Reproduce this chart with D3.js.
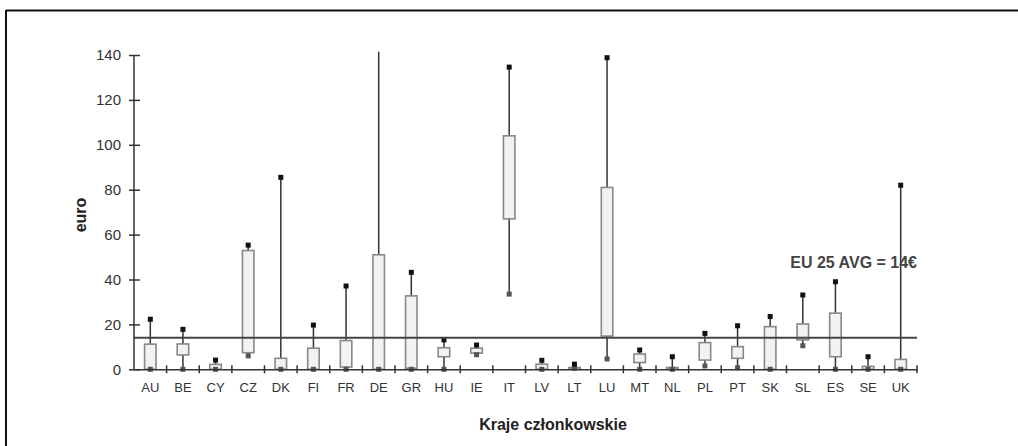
<!DOCTYPE html>
<html>
<head>
<meta charset="utf-8">
<script src="https://cdn.jsdelivr.net/npm/d3@7"></script>
<style>
  body { margin: 0; background: #fff; }
  svg { display: block; font-family: "Liberation Sans", Arial, sans-serif; }
</style>
</head>
<body>
<svg></svg>
<script>
var width = 1018, height = 446;

// data (euro)
var countries = ["AU","BE","CY","CZ","DK","FI","FR","DE","GR","HU","IE","IT",
                 "LV","LT","LU","MT","NL","PL","PT","SK","SL","ES","SE","UK"];
var mins = [0, 0, 0, 6, 0, 0, 0, 0, 0, 0, 6.5, 33.5, 0, 0.5, 4.6, 0, 0, 1.5, 0.7, 0, 10.5, 0, 0, 0];
var q1   = [0, 6.4, 0, 7.4, 0, 0, 1, 0, 0.5, 5.6, 7.2, 67, 0, 0, 14.8, 3, 0, 4.1, 4.9, 0, 13.1, 5.6, 0, 0];
var q3   = [11.2, 11.3, 2.2, 52.9, 4.9, 9.4, 12.8, 51, 32.7, 9.6, 9.4, 104, 2.3, 0.8, 81, 6.8, 0.8, 11.9, 10.1, 19, 20.2, 25, 1.3, 4.4];
var maxs = [22.3, 17.8, 4.1, 55.3, 85.5, 19.7, 37.1, 150, 43.2, 13.1, 10.8, 134.6, 4, 2.3, 138.8, 8.6, 5.6, 16, 19.4, 23.5, 33.1, 39, 5.6, 82];
var yTicks = [0, 20, 40, 60, 80, 100, 120, 140];
var avg = 14;
var avgLabel = "EU 25 AVG = 14€";

var svg = d3.select("svg")
    .attr("width", width)
    .attr("height", height);

// frame (top and left edges)
svg.append("line").attr("x1", 6).attr("x2", width).attr("y1", 10.5).attr("y2", 10.5)
    .attr("stroke", "#111").attr("stroke-width", 2);
svg.append("line").attr("x1", 6).attr("x2", 6).attr("y1", 10).attr("y2", height)
    .attr("stroke", "#111").attr("stroke-width", 2);

var x = d3.scaleBand().domain(countries).range([134, 917]);
var y = d3.scaleLinear().domain([0, 140]).range([369.3, 55]);

svg.append("clipPath").attr("id", "plot")
  .append("rect").attr("x", 134).attr("y", y(141.5)).attr("width", 800).attr("height", 330);

var boxW = 11.5;
var rows = countries.map(function(c, i) {
  return {c: c, min: mins[i], q1: q1[i], q3: q3[i], max: maxs[i]};
});

var plot = svg.append("g").attr("clip-path", "url(#plot)");

var g = plot.selectAll("g.box")
    .data(rows)
  .enter().append("g")
    .attr("class", "box")
    .attr("transform", function(d) { return "translate(" + (x(d.c) + x.bandwidth() / 2) + ",0)"; });

g.append("line")
    .attr("y1", function(d) { return y(d.min); })
    .attr("y2", function(d) { return y(d.max); })
    .attr("stroke", "#333")
    .attr("stroke-width", 1.5);

g.append("rect")
    .attr("x", -boxW / 2)
    .attr("width", boxW)
    .attr("y", function(d) { return y(d.q3); })
    .attr("height", function(d) { return Math.max(1.5, y(d.q1) - y(d.q3)); })
    .attr("fill", "#f1f2f3")
    .attr("stroke", "#888")
    .attr("stroke-width", 1.6);

g.append("rect")
    .attr("x", -2.5).attr("width", 5).attr("height", 5)
    .attr("y", function(d) { return y(d.min) - 2.5; })
    .attr("fill", "#555");

g.append("rect")
    .attr("x", -2.5).attr("width", 5).attr("height", 5)
    .attr("y", function(d) { return y(d.max) - 2.5; })
    .attr("fill", "#111");

// average line
svg.append("line")
    .attr("x1", x.range()[0]).attr("x2", x.range()[1])
    .attr("y1", y(avg)).attr("y2", y(avg))
    .attr("stroke", "#444")
    .attr("stroke-width", 2);

svg.append("text")
    .attr("x", 917).attr("y", 268)
    .attr("text-anchor", "end")
    .attr("font-size", 16)
    .attr("font-weight", "bold")
    .attr("fill", "#444")
    .text(avgLabel);

// y axis
var yAxis = d3.axisLeft(y).tickValues(yTicks).tickSize(5).tickPadding(8);
var ya = svg.append("g")
    .attr("transform", "translate(134,0)")
    .call(yAxis);
ya.select(".domain").attr("stroke", "#333").attr("stroke-width", 1.5).attr("d", "M0," + y(0) + "V" + y(140));
ya.selectAll(".tick line").attr("x1", -5).attr("x2", 6).attr("stroke", "#333").attr("stroke-width", 1.5);
ya.selectAll(".tick text").attr("font-size", 15).attr("fill", "#333")
    .attr("font-family", "Liberation Sans Narrow, Liberation Sans, Arial, sans-serif");

// x axis
var xAxis = d3.axisBottom(x).tickSize(0).tickPadding(13);
var xa = svg.append("g")
    .attr("transform", "translate(0," + y(0) + ")")
    .call(xAxis);
xa.select(".domain").attr("stroke", "#333").attr("stroke-width", 1.5);
xa.selectAll(".tick text").attr("font-size", 13).attr("fill", "#333")
    .attr("font-family", "Liberation Sans Narrow, Liberation Sans, Arial, sans-serif");
xa.selectAll("line.sep")
    .data(countries)
  .enter().append("line")
    .attr("class", "sep")
    .attr("x1", function(d) { return x(d) + x.bandwidth(); })
    .attr("x2", function(d) { return x(d) + x.bandwidth(); })
    .attr("y1", -4).attr("y2", 4)
    .attr("stroke", "#333").attr("stroke-width", 1.5);

// axis titles
svg.append("text")
    .attr("transform", "translate(86,215) rotate(-90)")
    .attr("text-anchor", "middle")
    .attr("font-size", 16)
    .attr("font-weight", "bold")
    .attr("fill", "#222")
    .text("euro");

svg.append("text")
    .attr("x", 553).attr("y", 430)
    .attr("text-anchor", "middle")
    .attr("font-size", 16)
    .attr("font-weight", "bold")
    .attr("fill", "#222")
    .text("Kraje członkowskie");
</script>
</body>
</html>
